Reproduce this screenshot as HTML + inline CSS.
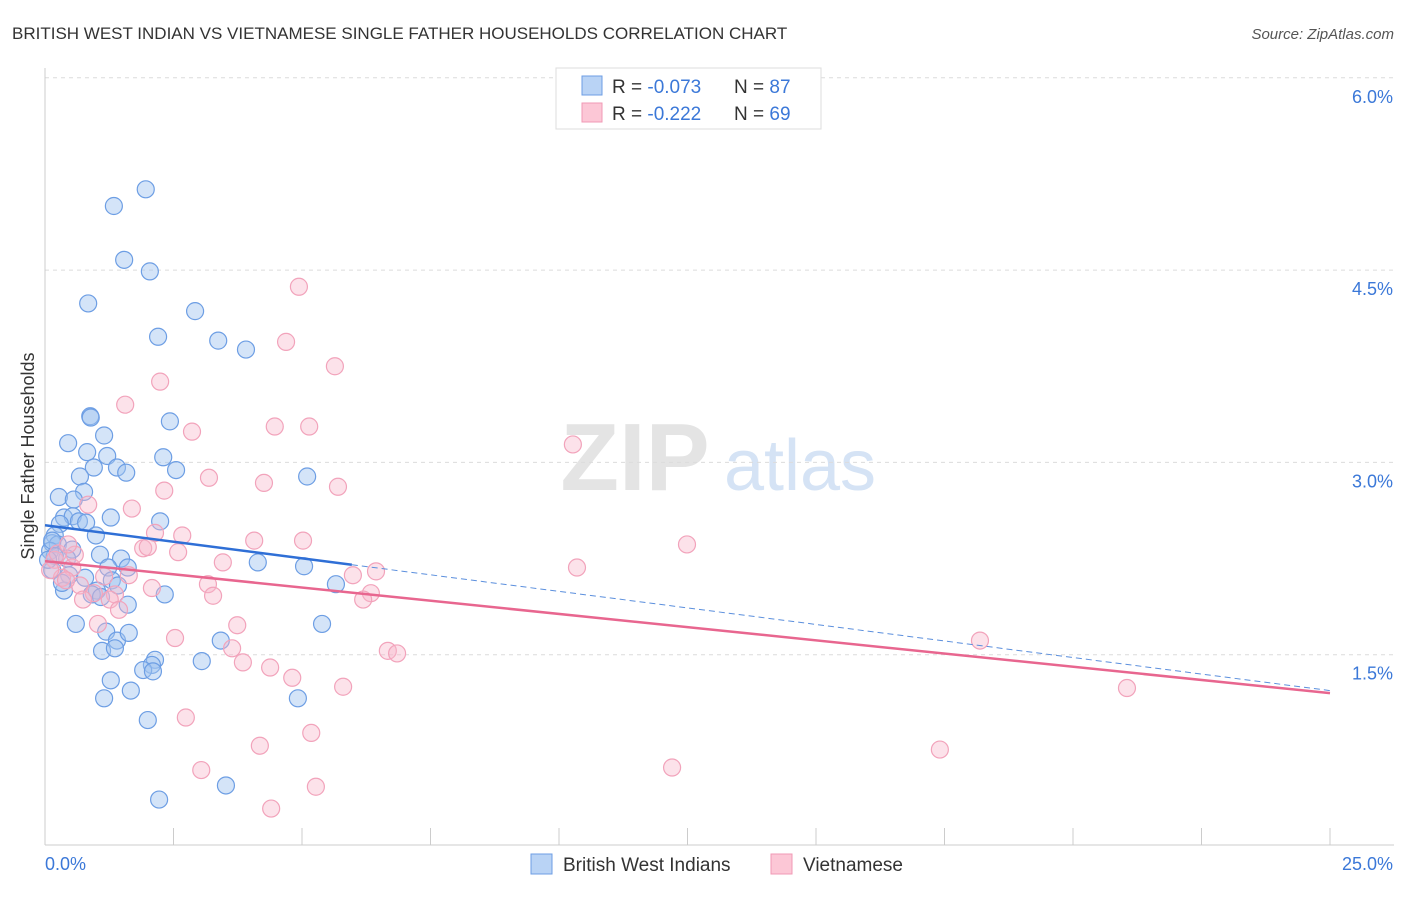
<!DOCTYPE html>
<html><head><meta charset="utf-8"><style>
body{margin:0;background:#fff;font-family:"Liberation Sans",sans-serif;}
svg text{font-family:"Liberation Sans",sans-serif;}
</style></head><body>
<svg id="chart" width="1406" height="892" xmlns="http://www.w3.org/2000/svg">
<text x="12" y="39" font-size="17" fill="#333">BRITISH WEST INDIAN VS VIETNAMESE SINGLE FATHER HOUSEHOLDS CORRELATION CHART</text>
<text x="1394" y="39" font-size="15" fill="#555" text-anchor="end" font-style="italic">Source: ZipAtlas.com</text>
<g>
<text x="635" y="490" font-size="96" fill="#e4e4e4" font-family="Liberation Serif" text-anchor="middle" font-weight="bold">ZIP</text>
<text x="800" y="490" font-size="72" fill="#d5e3f5" text-anchor="middle">atlas</text>
</g>
<g id="grid"></g>
<g id="axes"></g>
<g id="points"></g>
<g id="trends"></g>
<text x="34" y="456" font-size="18" fill="#333" text-anchor="middle" transform="rotate(-90 34 456)">Single Father Households</text>
<g>
<rect x="556" y="68" width="265" height="61" fill="#fff" stroke="#ddd"/>
<rect x="582" y="76" width="20" height="19" fill="#b9d3f5" stroke="#6d9ee4"/>
<rect x="582" y="103" width="20" height="19" fill="#fcc7d6" stroke="#f09ab5"/>
<text x="612" y="93" font-size="19" fill="#333">R = <tspan fill="#3b78d8">-0.073</tspan><tspan x="734">N = </tspan><tspan fill="#3b78d8">87</tspan></text>
<text x="612" y="120" font-size="19" fill="#333">R = <tspan fill="#3b78d8"> -0.222</tspan><tspan x="734">N = </tspan><tspan fill="#3b78d8">69</tspan></text>
</g>
<g>
<rect x="531" y="854" width="21" height="20" fill="#b9d3f5" stroke="#6d9ee4"/>
<text x="563" y="871" font-size="19" fill="#333">British West Indians</text>
<rect x="771" y="854" width="21" height="20" fill="#fcc7d6" stroke="#f09ab5"/>
<text x="803" y="871" font-size="19" fill="#333">Vietnamese</text>
</g>
</svg>
<script>
const xTickValues=[0,2.5,5,7.5,10,12.5,15,17.5,20,22.5,25];
const yTickValues=[1.5,3.0,4.5,6.0];
const yTickLabels=["1.5%","3.0%","4.5%","6.0%"];
const xEndLabels=["0.0%","25.0%"];
const blueX=[1.96,1.34,1.54,2.04,0.84,2.92,2.20,3.37,3.91,0.88,0.89,2.43,0.45,1.15,0.82,2.30,1.21,2.55,0.95,1.40,1.58,5.10,0.68,0.76,0.27,0.56,1.28,2.24,0.37,0.54,0.66,0.80,0.29,0.99,0.19,0.14,0.25,0.10,0.53,1.07,1.48,4.14,5.04,0.43,1.23,1.61,0.14,0.47,0.78,1.30,1.42,1.01,0.91,1.09,2.33,5.66,0.37,1.61,0.60,5.39,3.42,1.19,1.40,1.63,1.11,1.36,2.14,2.08,1.91,2.10,3.05,1.28,1.67,1.15,4.92,2.00,3.52,2.22,0.14,0.19,0.06,0.33];
const blueY=[5.13,5.00,4.58,4.49,4.24,4.18,3.98,3.95,3.88,3.36,3.35,3.32,3.15,3.21,3.08,3.04,3.05,2.94,2.96,2.96,2.92,2.89,2.89,2.77,2.73,2.71,2.57,2.54,2.57,2.58,2.54,2.53,2.52,2.43,2.43,2.37,2.36,2.31,2.32,2.28,2.25,2.22,2.19,2.25,2.18,2.18,2.16,2.12,2.10,2.08,2.04,2.00,1.97,1.95,1.97,2.05,2.00,1.89,1.74,1.74,1.61,1.68,1.61,1.67,1.53,1.55,1.46,1.42,1.38,1.37,1.45,1.30,1.22,1.16,1.16,0.99,0.48,0.37,2.39,2.27,2.24,2.06];
const pinkX=[4.94,4.69,5.64,2.24,1.56,10.27,2.86,4.47,5.14,3.19,4.26,5.70,2.32,0.84,1.69,2.14,2.67,4.07,5.02,12.49,1.91,2.00,2.59,3.46,6.44,5.99,10.35,0.53,1.15,1.63,0.68,3.17,2.08,3.27,6.34,6.19,1.36,0.95,0.74,1.26,1.44,3.74,1.03,2.53,3.64,6.67,6.85,18.19,4.38,3.85,4.81,5.80,21.05,2.74,5.18,4.18,17.41,3.04,12.20,5.27,4.40,0.19,0.25,0.33,0.10,0.41,0.58,0.45];
const pinkY=[4.37,3.94,3.75,3.63,3.45,3.14,3.24,3.28,3.28,2.88,2.84,2.81,2.78,2.67,2.64,2.45,2.43,2.39,2.39,2.36,2.33,2.34,2.30,2.22,2.15,2.12,2.18,2.18,2.11,2.12,2.04,2.05,2.02,1.96,1.98,1.93,1.97,1.98,1.93,1.93,1.85,1.73,1.74,1.63,1.55,1.53,1.51,1.61,1.40,1.44,1.32,1.25,1.24,1.01,0.89,0.79,0.76,0.60,0.62,0.47,0.30,2.24,2.29,2.10,2.16,2.08,2.28,2.36];
const blueTrend=[2.51,1.22];
const blueSolidEnd=5.97;
const pinkTrend=[2.23,1.20];

const NS="http://www.w3.org/2000/svg";
const X0=45,X1=1330,Y0=847,PX_PER=128.2;
function xs(v){return X0+(X1-X0)*v/25;}
function ys(v){return Y0-v*PX_PER;}
function mk(tag,attrs,parent){const e=document.createElementNS(NS,tag);for(const k in attrs)e.setAttribute(k,attrs[k]);parent.appendChild(e);return e;}
const grid=document.getElementById('grid'),axes=document.getElementById('axes'),pts=document.getElementById('points'),tr=document.getElementById('trends');
yTickValues.forEach((v,i)=>{
 const l=mk('line',{x1:45,x2:1394,y1:ys(v),y2:ys(v),stroke:'#dcdcdc','stroke-dasharray':'4,4'},grid);
 
 
 const t=mk('text',{x:1393,y:ys(v)+25,'font-size':18,fill:'#3b78d8','text-anchor':'end'},axes);
 t.textContent=yTickLabels[i];
 
 
});
const ax=mk('line',{x1:45,x2:1394,y1:845,y2:845,stroke:'#ccc'},axes);


const ay=mk('line',{x1:45,x2:45,y1:68,y2:845,stroke:'#ccc'},axes);


xTickValues.forEach(v=>{
 const l=mk('line',{x1:xs(v),x2:xs(v),y1:828,y2:845,stroke:'#ccc'},axes);
 
 
});
const tl=mk('text',{x:45,y:870,'font-size':18,fill:'#3b78d8'},axes);tl.textContent=xEndLabels[0];


const tr2=mk('text',{x:1393,y:870,'font-size':18,fill:'#3b78d8','text-anchor':'end'},axes);tr2.textContent=xEndLabels[1];


blueX.forEach((v,i)=>{
 const c=mk('circle',{cx:xs(v),cy:ys(blueY[i]),r:8.5,fill:'rgba(160,196,240,0.45)',stroke:'#6d9ee4','stroke-width':1.2},pts);
 
 
});
pinkX.forEach((v,i)=>{
 const c=mk('circle',{cx:xs(v),cy:ys(pinkY[i]),r:8.5,fill:'rgba(248,182,202,0.4)',stroke:'#f2a3bb','stroke-width':1.2},pts);
 
 
});
function tY(t,x){return t[0]+(t[1]-t[0])*x/25;}
const bs=mk('line',{x1:xs(0),y1:ys(tY(blueTrend,0)),x2:xs(blueSolidEnd),y2:ys(tY(blueTrend,blueSolidEnd)),stroke:'#2f6fd6','stroke-width':2.5},tr);


const bd=mk('line',{x1:xs(blueSolidEnd),y1:ys(tY(blueTrend,blueSolidEnd)),x2:xs(25),y2:ys(tY(blueTrend,25)),stroke:'#5b8fdd','stroke-width':1,'stroke-dasharray':'6,4'},tr);


const ps=mk('line',{x1:xs(0),y1:ys(tY(pinkTrend,0)),x2:xs(25),y2:ys(tY(pinkTrend,25)),stroke:'#e8668f','stroke-width':2.5},tr);


</script>
</body></html>
